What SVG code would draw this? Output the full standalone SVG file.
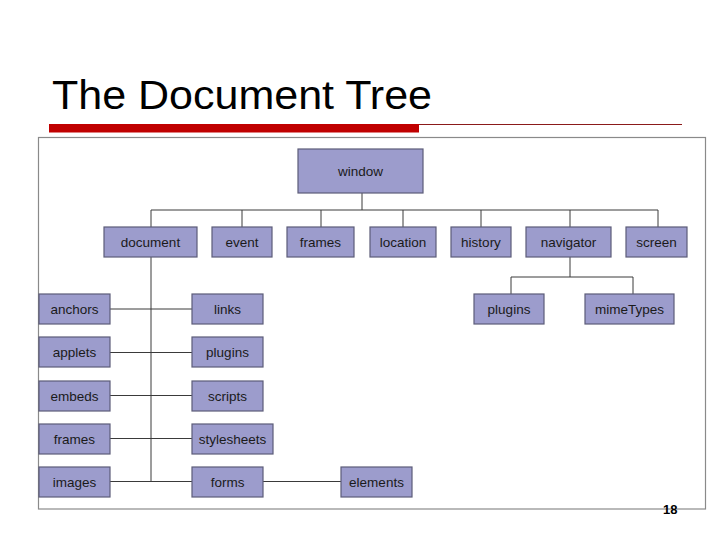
<svg xmlns="http://www.w3.org/2000/svg" width="728" height="546" viewBox="0 0 728 546">
<style>
.n rect{fill:#9c9ccc;stroke:#5c5c78;stroke-width:1.2}
.n text{font-family:"Liberation Sans",Arial,sans-serif;font-size:13.5px;fill:#1a1a1a;text-anchor:middle;dominant-baseline:central}
#connectors path{fill:none;stroke:#3a3a3a;stroke-width:1}
</style>
<rect width="728" height="546" fill="#ffffff"/>
<text x="52" y="109" font-family="'Liberation Sans',Arial,sans-serif" font-size="40" fill="#000" textLength="380" lengthAdjust="spacingAndGlyphs">The Document Tree</text>
<rect x="49" y="124" width="370" height="8.5" fill="#c00000"/>
<line x1="419" y1="124.5" x2="682" y2="124.5" stroke="#8b1a1a" stroke-width="1"/>
<rect x="38.5" y="137.5" width="667" height="371.5" fill="none" stroke="#8a8a8a" stroke-width="1.2"/>
<g id="connectors">
<path d="M362 193V210M151 210H658M151 210V227M242 210V227M321 210V227M403 210V227M481 210V227M570 210V227M658 210V227"/>
<path d="M570 257V277M511 277H633M511 277V294M633 277V294"/>
<path d="M151 257V481"/>
<path d="M110 309H192M110 352.5H192M110 395.5H192M110 438.5H192M110 481.5H192M263 481.5H341"/>
</g>
<g id="window" class="n"><rect x="298" y="149" width="125" height="44"/><text x="360.5" y="171">window</text></g>
<g id="document" class="n"><rect x="104" y="227" width="93" height="30"/><text x="150.5" y="242">document</text></g>
<g id="event" class="n"><rect x="212" y="227" width="60" height="30"/><text x="242" y="242">event</text></g>
<g id="frames-w" class="n"><rect x="287" y="227" width="67" height="30"/><text x="320.5" y="242">frames</text></g>
<g id="location" class="n"><rect x="370" y="227" width="66" height="30"/><text x="403" y="242">location</text></g>
<g id="history" class="n"><rect x="451" y="227" width="60" height="30"/><text x="481" y="242">history</text></g>
<g id="navigator" class="n"><rect x="526" y="227" width="85" height="30"/><text x="568.5" y="242">navigator</text></g>
<g id="screen" class="n"><rect x="626" y="227" width="61" height="30"/><text x="656.5" y="242">screen</text></g>
<g id="plugins-n" class="n"><rect x="474" y="294" width="70" height="30"/><text x="509" y="309">plugins</text></g>
<g id="mimeTypes" class="n"><rect x="585" y="294" width="89" height="30"/><text x="629.5" y="309">mimeTypes</text></g>
<g id="anchors" class="n"><rect x="39" y="294" width="71" height="30"/><text x="74.5" y="309">anchors</text></g>
<g id="applets" class="n"><rect x="39" y="337" width="71" height="30"/><text x="74.5" y="352">applets</text></g>
<g id="embeds" class="n"><rect x="39" y="381" width="71" height="30"/><text x="74.5" y="396">embeds</text></g>
<g id="frames-d" class="n"><rect x="39" y="424" width="71" height="30"/><text x="74.5" y="439">frames</text></g>
<g id="images" class="n"><rect x="39" y="467" width="71" height="30"/><text x="74.5" y="482">images</text></g>
<g id="links" class="n"><rect x="192" y="294" width="71" height="30"/><text x="227.5" y="309">links</text></g>
<g id="plugins-d" class="n"><rect x="192" y="337" width="71" height="30"/><text x="227.5" y="352">plugins</text></g>
<g id="scripts" class="n"><rect x="192" y="381" width="71" height="30"/><text x="227.5" y="396">scripts</text></g>
<g id="stylesheets" class="n"><rect x="192" y="424" width="81" height="30"/><text x="232.5" y="439">stylesheets</text></g>
<g id="forms" class="n"><rect x="192" y="467" width="71" height="30"/><text x="227.5" y="482">forms</text></g>
<g id="elements" class="n"><rect x="341" y="467" width="71" height="30"/><text x="376.5" y="482">elements</text></g>
<text x="663" y="514" font-family="'Liberation Sans',Arial,sans-serif" font-size="13" font-weight="bold" fill="#000">18</text>
</svg>
